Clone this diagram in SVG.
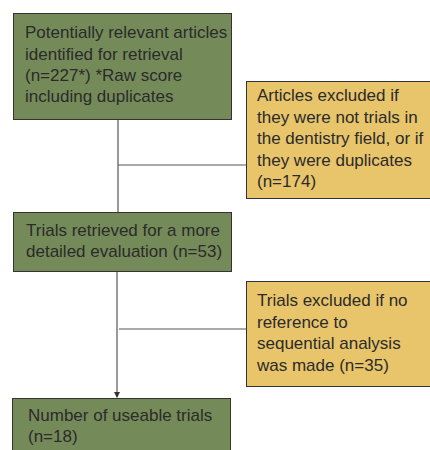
<svg xmlns="http://www.w3.org/2000/svg" width="430" height="450" viewBox="0 0 430 450">
<style>
.g{fill:#758a59;stroke:#333;stroke-width:1}
.y{fill:#e8c46a;stroke:#333;stroke-width:1}
text{font-family:"Liberation Sans",Arial,sans-serif;font-size:17px;fill:#2b2b2b}
.c{stroke:#555;stroke-width:1.2;fill:none}
</style>
<defs>
<marker id="ah" markerWidth="6" markerHeight="6" refX="5" refY="3" orient="auto" markerUnits="userSpaceOnUse">
<path d="M0,0 L6,3 L0,6 Z" fill="#333"/>
</marker>
</defs>
<g id="connectors">
<path class="c" d="M118,120 V212"/>
<path class="c" d="M118,165 H247"/>
<path class="c" d="M117,272 V397" marker-end="url(#ah)"/>
<path class="c" d="M119,329 H247"/>
</g>
<g id="n1">
<rect class="g" x="13.5" y="13.5" width="218" height="106"/>
<text x="25" y="38">Potentially relevant articles</text>
<text x="25" y="60">identified for retrieval</text>
<text x="25" y="81">(n=227*) *Raw score</text>
<text x="25" y="102">including duplicates</text>
</g>
<g id="n2">
<rect class="y" x="246.5" y="81.5" width="190" height="117"/>
<text x="257" y="101">Articles excluded if</text>
<text x="257" y="123">they were not trials in</text>
<text x="257" y="144">the dentistry field, or if</text>
<text x="257" y="166">they were duplicates</text>
<text x="257" y="187">(n=174)</text>
</g>
<g id="n3">
<rect class="g" x="13.5" y="212.5" width="218" height="59"/>
<text x="26" y="236">Trials retrieved for a more</text>
<text x="26" y="257">detailed evaluation (n=53)</text>
</g>
<g id="n4">
<rect class="y" x="246.5" y="281.5" width="190" height="105"/>
<text x="257" y="306">Trials excluded if no</text>
<text x="257" y="328">reference to</text>
<text x="257" y="349">sequential analysis</text>
<text x="257" y="371">was made (n=35)</text>
</g>
<g id="n5">
<rect class="g" x="12.5" y="398.5" width="218" height="60"/>
<text x="28" y="421">Number of useable trials</text>
<text x="28" y="442">(n=18)</text>
</g>
</svg>
